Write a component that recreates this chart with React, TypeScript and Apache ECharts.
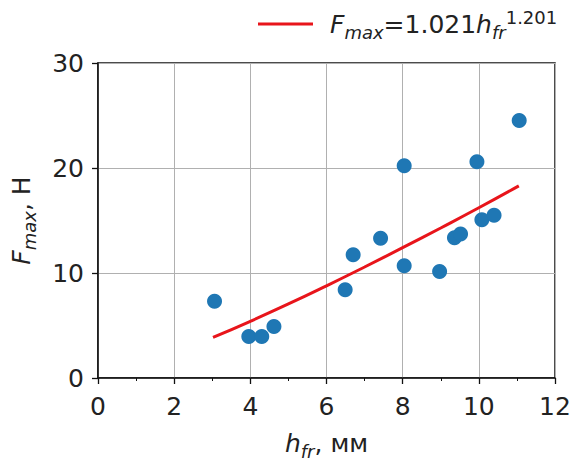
import React, { useEffect, useRef } from "react";
import * as echarts from "echarts";

const hFr = [3.06, 3.96, 4.3, 4.62, 6.49, 6.7, 7.42, 8.04, 8.04, 8.97, 9.36, 9.52, 9.95, 10.08, 10.4, 11.06];
const fMax = [7.3, 3.96, 3.96, 4.91, 8.41, 11.74, 13.3, 20.22, 10.7, 10.15, 13.36, 13.71, 20.6, 15.08, 15.49, 24.53];

const fitX = [3.02, 4, 5, 6, 7, 8, 9, 10, 11.05];
const fitY = [3.86, 5.4, 7.05, 8.78, 10.57, 12.41, 14.29, 16.21, 18.3];

const xTicks = [0, 2, 4, 6, 8, 10, 12];
const yTicks = [0, 10, 20, 30];

const TXT = "#222";
const FONT = "DejaVu Sans";
const FS = 25;
const SFS = 18;

const richSet = {
  i: { fontSize: FS, fontStyle: "italic", fontFamily: FONT, color: TXT, lineHeight: 34, verticalAlign: "bottom", padding: [0, 0, 4, 0] },
  n: { fontSize: FS, fontFamily: FONT, color: TXT, lineHeight: 34, verticalAlign: "bottom", padding: [0, 0, 4, 0] },
  sub: { fontSize: SFS, fontStyle: "italic", fontFamily: FONT, color: TXT, lineHeight: 18, verticalAlign: "bottom" },
  sup: { fontSize: SFS, fontFamily: FONT, color: TXT, lineHeight: 18, verticalAlign: "top", padding: [1, 0, 0, 0] },
};

const titleRich = {
  i: { fontSize: FS, fontStyle: "italic", fontFamily: FONT, color: TXT, lineHeight: 26, verticalAlign: "bottom", padding: [0, 0, 4, 0] },
  n: { fontSize: FS, fontFamily: FONT, color: TXT, lineHeight: 26, verticalAlign: "bottom", padding: [0, 0, 4, 0] },
  sub: { fontSize: SFS, fontStyle: "italic", fontFamily: FONT, color: TXT, lineHeight: 14, verticalAlign: "bottom" },
};

export default function App() {
  const ref = useRef<HTMLDivElement>(null);
  useEffect(() => {
    if (!ref.current) return;
    const chart = echarts.init(ref.current, undefined, { renderer: "svg" });
    const scatter = hFr.map((x, i) => [x, fMax[i]]);
    const fit = fitX.map((x, i) => [x, fitY[i]]);
    chart.setOption({
      animation: false,
      backgroundColor: "#fff",
      textStyle: { fontFamily: FONT },
      grid: {
        left: 98,
        right: 17,
        top: 63,
        bottom: 82,
        outerBoundsMode: "none",
        containLabel: false,
        show: true,
        borderColor: "#111",
        borderWidth: 1.5,
        backgroundColor: "transparent",
      },
      legend: {
        show: true,
        data: ["fit"],
        left: 253,
        top: 2,
        itemWidth: 55,
        itemHeight: 3,
        itemGap: 10,
        icon: "rect",
        formatter: () => "{i|F}{sub|max}{n|=1.021}{i|h}{sub|fr}{sup|1.201}",
        textStyle: { color: TXT, fontFamily: FONT, padding: [0, 0, 0, 12], rich: richSet },
      },
      xAxis: {
        type: "value",
        min: xTicks[0],
        max: xTicks[xTicks.length - 1],
        interval: 2,
        name: "{i|h}{sub|fr}{n|, мм}",
        nameLocation: "middle",
        nameGap: 56,
        nameMoveOverlap: false,
        nameTextStyle: { rich: titleRich },
        axisLine: { show: true, onZero: false, lineStyle: { color: "#111", width: 1.5 } },
        axisTick: { show: true, length: 6, lineStyle: { color: "#111", width: 1.3 } },
        minorTick: { show: true, splitNumber: 2, length: 3, lineStyle: { color: "#111", width: 1 } },
        axisLabel: { fontSize: FS, color: TXT, fontFamily: FONT, margin: 16 },
        splitLine: { show: true, lineStyle: { color: "#b0b0b0", width: 1 } },
      },
      yAxis: {
        type: "value",
        min: yTicks[0],
        max: yTicks[yTicks.length - 1],
        interval: 10,
        name: "{i|F}{sub|max}{n|, Н}",
        nameLocation: "middle",
        nameRotate: 90,
        nameGap: 60,
        nameMoveOverlap: false,
        nameTextStyle: { rich: titleRich },
        axisLine: { show: true, onZero: false, lineStyle: { color: "#111", width: 1.5 } },
        axisTick: { show: true, length: 6, lineStyle: { color: "#111", width: 1.3 } },
        axisLabel: { fontSize: FS, color: TXT, fontFamily: FONT, margin: 14 },
        splitLine: { show: true, lineStyle: { color: "#b0b0b0", width: 1 } },
      },
      series: [
        {
          name: "pts",
          type: "scatter",
          data: scatter,
          symbolSize: 15,
          itemStyle: { color: "#1f77b4", opacity: 1 },
          z: 3,
        },
        {
          name: "fit",
          type: "line",
          data: fit,
          smooth: true,
          showSymbol: false,
          symbol: "none",
          lineStyle: { color: "#e8151b", width: 3 },
          itemStyle: { color: "#e8151b" },
          z: 4,
        },
      ],
    });
    return () => chart.dispose();
  }, []);
  return (
    <div
      ref={ref}
      style={{ position: "fixed", left: 0, top: 0, width: 572, height: 460 }}
    />
  );
}
